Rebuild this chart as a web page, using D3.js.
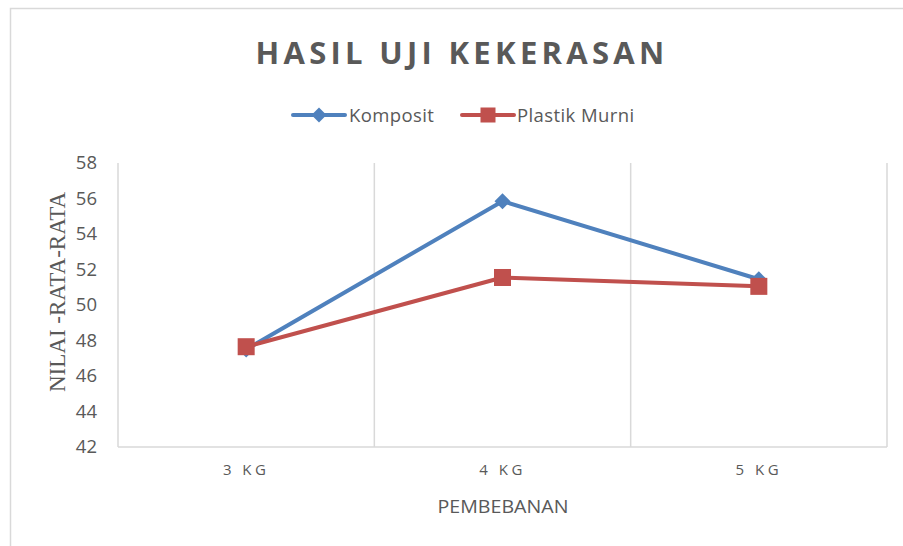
<!DOCTYPE html>
<html>
<head>
<meta charset="utf-8">
<script src="https://cdn.jsdelivr.net/npm/d3@7"></script>
<style>
body { margin: 0; background: #fff; }
text { fill: #595959; }
</style>
</head>
<body>
<svg id="chart" width="903" height="546"></svg>
<script>
var categories = ["3 KG", "4 KG", "5 KG"];
var komposit = [47.5, 55.85, 51.45];
var plastikMurni = [47.65, 51.55, 51.05];
var yTicks = [42, 44, 46, 48, 50, 52, 54, 56, 58];
var seriesNames = ["Komposit", "Plastik Murni"];
var colors = ["#4F81BD", "#C0504D"];

function drawChart(){
	var svg = d3.select("#chart");

	// chart frame
	svg.append("rect")
		.attr("x", 10.5).attr("y", 8.5)
		.attr("width", 900).attr("height", 545)
		.attr("fill", "none")
		.attr("stroke", "#d9d9d9")
		.attr("stroke-width", 1.5);

	var plotLeft = 118, plotRight = 887, plotTop = 163, plotBottom = 447;

	var x = d3.scaleBand().domain(categories).range([plotLeft, plotRight]);
	var y = d3.scaleLinear().domain([42, 58]).range([plotBottom, plotTop]);

	// vertical gridlines at category boundaries
	var bounds = categories.map(function(c){ return x(c); }).concat([plotRight]);
	svg.append("g").selectAll("line")
		.data(bounds)
		.enter().append("line")
		.attr("x1", function(d){ return d; })
		.attr("x2", function(d){ return d; })
		.attr("y1", plotTop).attr("y2", plotBottom)
		.attr("stroke", "#d9d9d9")
		.attr("stroke-width", 1.5);

	svg.append("line")
		.attr("x1", plotLeft).attr("x2", plotRight)
		.attr("y1", plotBottom).attr("y2", plotBottom)
		.attr("stroke", "#d9d9d9")
		.attr("stroke-width", 1.5);

	// y axis labels
	var yAxis = d3.axisLeft(y).tickValues(yTicks).tickSize(0).tickPadding(21);
	var gy = svg.append("g").attr("transform", "translate(" + plotLeft + ",0)").call(yAxis);
	gy.select(".domain").remove();
	gy.selectAll("text")
		.style("font-family", "'Open Sans', 'Noto Sans', sans-serif")
		.style("font-size", "18.5px")
		.style("fill", "#595959");

	// x axis labels
	var xAxis = d3.axisBottom(x).tickSize(0).tickPadding(17);
	var gx = svg.append("g").attr("transform", "translate(0," + plotBottom + ")").call(xAxis);
	gx.select(".domain").remove();
	gx.selectAll("text")
		.style("font-family", "'Open Sans', 'Noto Sans', sans-serif")
		.style("font-size", "15px")
		.style("letter-spacing", "3.5px")
		.style("fill", "#595959");

	// titles
	svg.append("text")
		.attr("x", 462).attr("y", 64)
		.attr("text-anchor", "middle")
		.style("font-family", "'Open Sans', 'Noto Sans', sans-serif")
		.style("font-weight", "bold")
		.style("font-size", "31px")
		.style("letter-spacing", "4.3px")
		.text("HASIL UJI KEKERASAN");

	svg.append("text")
		.attr("x", 503).attr("y", 513)
		.attr("text-anchor", "middle")
		.attr("textLength", 131)
		.attr("lengthAdjust", "spacingAndGlyphs")
		.style("font-family", "'Open Sans', 'Noto Sans', sans-serif")
		.style("font-size", "17.5px")
		.text("PEMBEBANAN");

	svg.append("text")
		.attr("transform", "translate(65,292) rotate(-90)")
		.attr("text-anchor", "middle")
		.style("font-family", "'Liberation Serif', 'DejaVu Serif', serif")
		.style("font-size", "23px")
		.text("NILAI -RATA-RATA");

	// series
	var data = [komposit, plastikMurni];
	var cx = function(i){ return x(categories[i]) + x.bandwidth() / 2; };
	var line = d3.line()
		.x(function(d, i){ return cx(i); })
		.y(function(d){ return y(d); });

	function diamondPath(r){
		return "M0," + (-r) + "L" + r + ",0L0," + r + "L" + (-r) + ",0Z";
	}

	data.forEach(function(vals, s){
		svg.append("path")
			.datum(vals)
			.attr("d", line)
			.attr("fill", "none")
			.attr("stroke", colors[s])
			.attr("stroke-width", 4)
			.attr("stroke-linejoin", "round");

		var g = svg.append("g");
		if (s === 0) {
			g.selectAll("path")
				.data(vals).enter().append("path")
				.attr("d", diamondPath(8))
				.attr("transform", function(d, i){ return "translate(" + cx(i) + "," + y(d) + ")"; })
				.attr("fill", colors[s]);
		} else {
			g.selectAll("rect")
				.data(vals).enter().append("rect")
				.attr("x", function(d, i){ return cx(i) - 8.5; })
				.attr("y", function(d){ return y(d) - 8.5; })
				.attr("width", 17).attr("height", 17)
				.attr("fill", colors[s]);
		}
	});

	// legend
	var legendItems = [{x: 293, tx: 349}, {x: 462, tx: 517}];
	seriesNames.forEach(function(name, s){
		var lg = svg.append("g");
		var lx = legendItems[s].x;
		lg.append("line")
			.attr("x1", lx).attr("x2", lx + 52)
			.attr("y1", 115).attr("y2", 115)
			.attr("stroke", colors[s]).attr("stroke-width", 4)
			.attr("stroke-linecap", "round");
		if (s === 0) {
			lg.append("path")
				.attr("d", diamondPath(7.5))
				.attr("transform", "translate(" + (lx + 26) + ",115)")
				.attr("fill", colors[s]);
		} else {
			lg.append("rect")
				.attr("x", lx + 26 - 7.5).attr("y", 107.5)
				.attr("width", 15).attr("height", 15)
				.attr("fill", colors[s]);
		}
		lg.append("text")
			.attr("x", legendItems[s].tx).attr("y", 121.5)
			.style("font-family", "'Open Sans', 'Noto Sans', sans-serif")
			.style("font-size", "18.5px")
			.style("letter-spacing", "0.4px")
			.text(name);
	});
}

drawChart();
</script>
</body>
</html>
